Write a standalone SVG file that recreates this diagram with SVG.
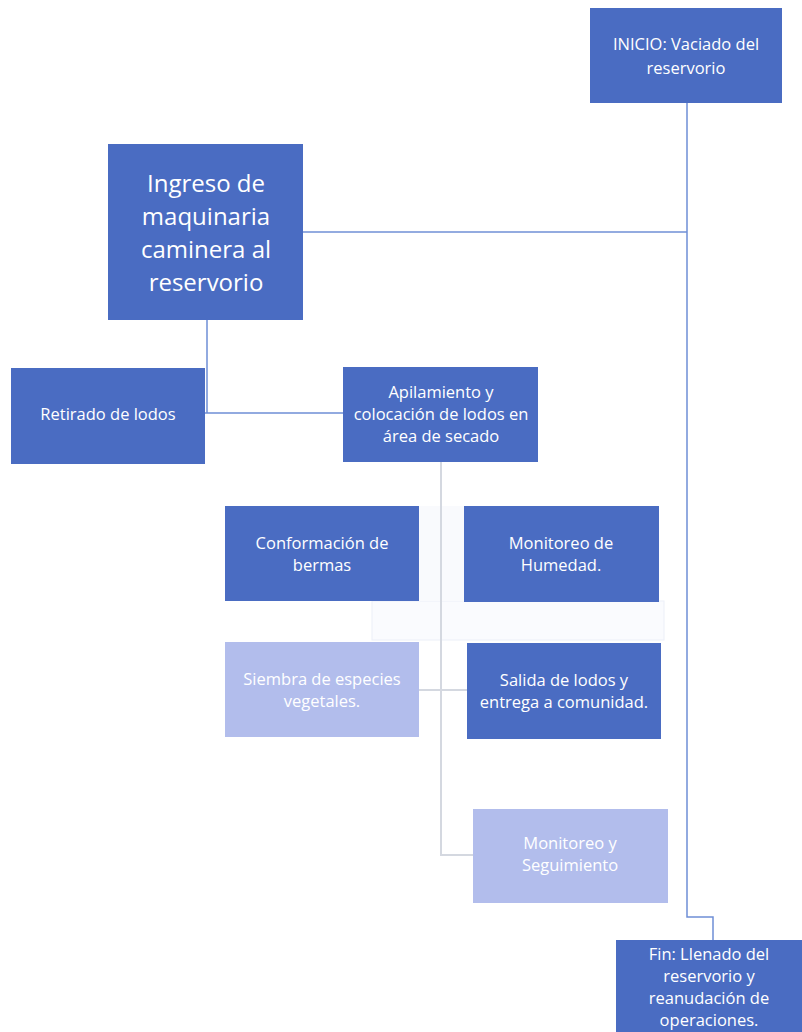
<svg xmlns="http://www.w3.org/2000/svg" width="802" height="1032" viewBox="0 0 802 1032">
<style>
.dk{fill:#4a6cc2}
.lt{fill:#b2bdec}
.t{font-family:"Open Sans",Lato,"Liberation Sans",sans-serif;font-size:16.5px;fill:#ffffff;text-anchor:middle}
.big{font-size:24px}
.c{fill:none;stroke:#6f8fd6;stroke-width:1.5}
.g{fill:none;stroke:#d4d8e0;stroke-width:2}
</style>
<rect width="802" height="1032" fill="#ffffff"/>
<g id="ghost">
<rect x="372" y="601" width="292" height="39" fill="#fafbfe" stroke="#eceff8" stroke-width="1"/>
<rect x="419" y="506" width="45" height="95" fill="#f9fafd"/>
</g>
<g id="connectors">
<path class="c" d="M687 103 V917 H713 V940"/>
<path class="c" d="M303 232 H687"/>
<path class="c" d="M207 320 V413 M205 413 H343"/>
<path class="g" d="M441 462 V855 H473"/>
<path class="g" d="M419 690 H467"/>
</g>
<g id="inicio"><rect class="dk" x="590" y="8" width="192" height="95"/>
<text class="t" x="686" y="50">INICIO: Vaciado del</text><text class="t" x="686" y="74">reservorio</text></g>
<g id="ingreso"><rect class="dk" x="108" y="144" width="195" height="176"/>
<text class="t big" x="206" y="192">Ingreso de</text><text class="t big" x="206" y="225">maquinaria</text><text class="t big" x="206" y="258">caminera al</text><text class="t big" x="206" y="291">reservorio</text></g>
<g id="retirado"><rect class="dk" x="11" y="368" width="194" height="96"/>
<text class="t" x="108" y="420">Retirado de lodos</text></g>
<g id="apilamiento"><rect class="dk" x="343" y="367" width="195" height="95"/>
<text class="t" x="441" y="398">Apilamiento y</text><text class="t" x="441" y="420">colocación de lodos en</text><text class="t" x="441" y="442">área de secado</text></g>
<g id="conformacion"><rect class="dk" x="225" y="506" width="194" height="95"/>
<text class="t" x="322" y="549">Conformación de</text><text class="t" x="322" y="571">bermas</text></g>
<g id="humedad"><rect class="dk" x="464" y="506" width="195" height="96"/>
<text class="t" x="561" y="549">Monitoreo de</text><text class="t" x="561" y="571">Humedad.</text></g>
<g id="siembra"><rect class="lt" x="225" y="642" width="194" height="95"/>
<text class="t" x="322" y="685">Siembra de especies</text><text class="t" x="322" y="707">vegetales.</text></g>
<g id="salida"><rect class="dk" x="467" y="643" width="194" height="96"/>
<text class="t" x="564" y="686">Salida de lodos y</text><text class="t" x="564" y="708">entrega a comunidad.</text></g>
<g id="seguimiento"><rect class="lt" x="473" y="809" width="195" height="94"/>
<text class="t" x="570" y="849">Monitoreo y</text><text class="t" x="570" y="871">Seguimiento</text></g>
<g id="fin"><rect class="dk" x="616" y="940" width="186" height="92"/>
<text class="t" x="709" y="960">Fin: Llenado del</text><text class="t" x="709" y="982">reservorio y</text><text class="t" x="709" y="1004">reanudación de</text><text class="t" x="709" y="1026">operaciones.</text></g>
</svg>
